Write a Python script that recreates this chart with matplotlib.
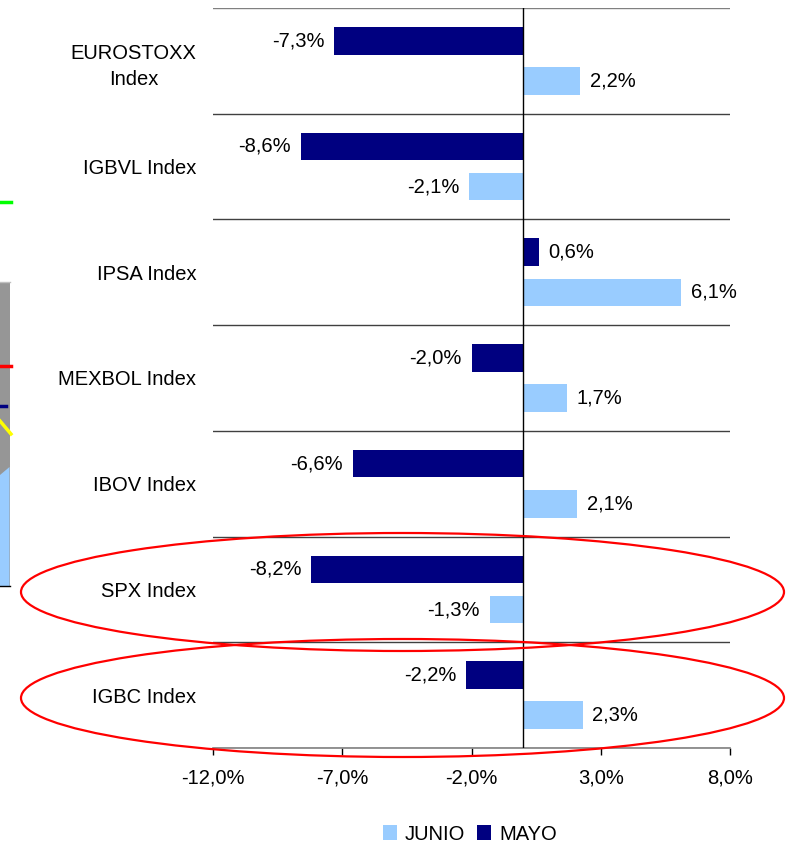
import matplotlib
matplotlib.use("Agg")
import matplotlib.pyplot as plt
from matplotlib.patches import Ellipse, Rectangle, Polygon, Patch
from matplotlib.lines import Line2D
import numpy as np

plt.rcParams['font.family'] = ['Liberation Sans', 'DejaVu Sans']

categories = ["EUROSTOXX\nIndex", "IGBVL Index", "IPSA Index", "MEXBOL Index",
              "IBOV Index", "SPX Index", "IGBC Index"]
mayo = [-7.3, -8.6, 0.6, -2.0, -6.6, -8.2, -2.2]
junio = [2.2, -2.1, 6.1, 1.7, 2.1, -1.3, 2.3]
xticks = [-12, -7, -2, 3, 8]

W, H = 787, 842
FS = 14.5
fig = plt.figure(figsize=(W / 100, H / 100), dpi=100)
ax = fig.add_axes([213 / W, 1 - 748 / H, (730 - 213) / W, (748 - 8) / H])

NAVY = '#000080'
LIGHT = '#99CCFF'
y = np.arange(len(categories))
bh = 0.26
off = 0.19
ax.barh(y - off, mayo, height=bh, color=NAVY, zorder=3)
ax.barh(y + off, junio, height=bh, color=LIGHT, zorder=3)

def fmt(v):
    return f"{v:.1f}%".replace('.', ',')

pad = 0.38
for i, (m, j) in enumerate(zip(mayo, junio)):
    for v, yy in ((m, i - off), (j, i + off)):
        if v < 0:
            ax.text(v - pad, yy, fmt(v), ha='right', va='center', fontsize=FS)
        else:
            ax.text(v + pad, yy, fmt(v), ha='left', va='center', fontsize=FS)

ax.set_xlim(-12, 8)
ax.set_ylim(len(categories) - 0.5, -0.5)

# separators
for k in range(len(categories) + 1):
    b = k - 0.5
    col = '#808080' if k in (0, len(categories)) else '#404040'
    ax.axhline(b, color=col, lw=1.0, zorder=2)
ax.axvline(0, color='black', lw=1.0, zorder=4)

for s in ['left', 'right', 'top']:
    ax.spines[s].set_visible(False)
ax.spines['bottom'].set_color('#808080')
ax.spines['bottom'].set_linewidth(1.2)

ax.set_xticks(xticks)
ax.set_xticklabels([fmt(float(t)) for t in xticks], fontsize=FS)
ax.tick_params(axis='x', direction='out', length=5, width=1, color='black', pad=10)
ax.set_yticks(y)
ax.set_yticklabels(categories, fontsize=FS, multialignment='center')
for lbl in ax.get_yticklabels():
    lbl.set_linespacing(1.45)
ax.tick_params(axis='y', length=0, pad=12)

# legend
handles = [Patch(facecolor=LIGHT, edgecolor='none', label='JUNIO'),
           Patch(facecolor=NAVY, edgecolor='none', label='MAYO')]
fig.legend(handles=handles, loc='center', bbox_to_anchor=(470 / W, 1 - 834 / H),
           ncol=2, frameon=False, fontsize=FS, handlelength=0.7, handleheight=0.7,
           handletextpad=0.4, columnspacing=0.6)

# red ellipses
def fx(px):
    return px / W

def fy(py):
    return 1 - py / H

for cy in (592, 698):
    e = Ellipse((fx(402.5), fy(cy)), width=763 / W, height=118 / H,
                transform=fig.transFigure, fill=False, edgecolor='red', lw=1.6, zorder=10)
    fig.add_artist(e)

# fragments of neighbouring chart at the left edge
fig.add_artist(Rectangle((0, fy(586)), fx(9.5), (586 - 282) / H, transform=fig.transFigure,
                         facecolor='#969696', edgecolor='none'))
fig.add_artist(Polygon([(0, fy(475)), (fx(9.5), fy(467)), (fx(9.5), fy(586)), (0, fy(586))],
                       closed=True, transform=fig.transFigure, facecolor=LIGHT, edgecolor='none'))
fig.add_artist(Line2D([0, fx(9.5)], [fy(282), fy(282)], transform=fig.transFigure, color='#c0c0c0', lw=1))
fig.add_artist(Line2D([0, fx(10)], [fy(586), fy(586)], transform=fig.transFigure, color='black', lw=1))
fig.add_artist(Line2D([0, fx(11)], [fy(202), fy(202)], transform=fig.transFigure, color='#00FF00', lw=2.5))
fig.add_artist(Line2D([0, fx(11)], [fy(366), fy(366)], transform=fig.transFigure, color='red', lw=2.5))
fig.add_artist(Line2D([0, fx(6)], [fy(406), fy(406)], transform=fig.transFigure, color=NAVY, lw=2.5))
fig.add_artist(Line2D([0, fx(11)], [fy(421), fy(434)], transform=fig.transFigure, color='yellow', lw=2.5))

fig.savefig('out.png', dpi=100)
